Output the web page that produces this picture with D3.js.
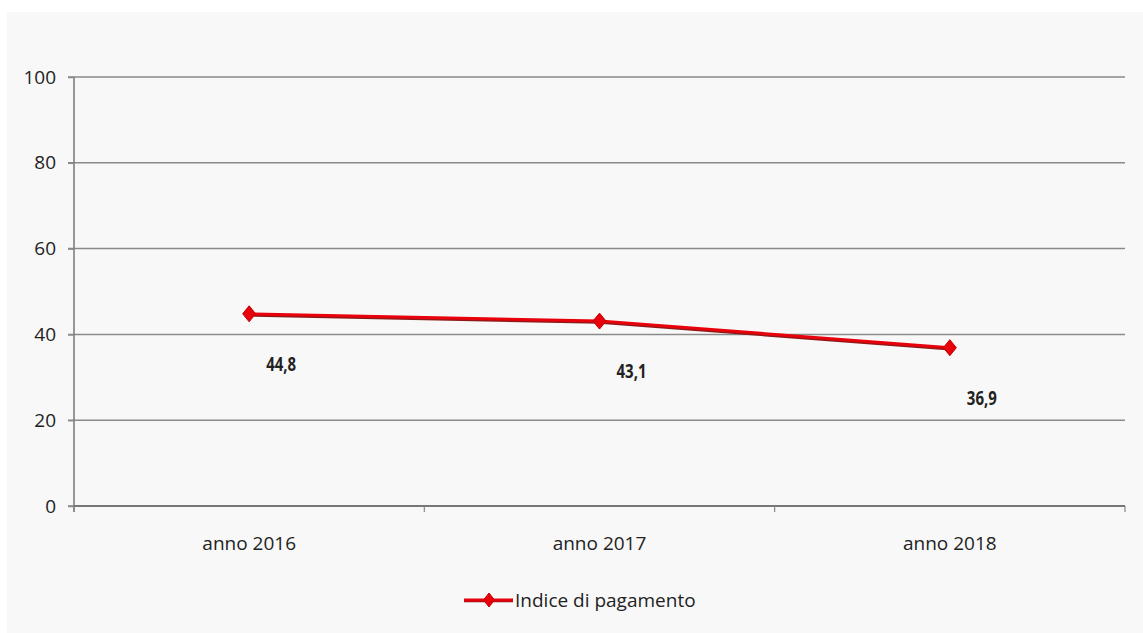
<!DOCTYPE html>
<html><head><meta charset="utf-8">
<script src="https://cdn.jsdelivr.net/npm/d3@7"></script>
<style>html,body{margin:0;padding:0;background:#fff;}svg{display:block;}</style>
</head><body>
<svg id="c" width="1143" height="633"></svg>
<script>
const categories = ["anno 2016", "anno 2017", "anno 2018"];
const values = [44.8, 43.1, 36.9];
const valueLabels = ["44,8", "43,1", "36,9"];
const yTicks = [0, 20, 40, 60, 80, 100];
const seriesName = "Indice di pagamento";

const svg = d3.select("#c");
const font = "'Open Sans', 'DejaVu Sans', sans-serif";
svg.append("rect").attr("x", 7).attr("y", 12).attr("width", 1136).attr("height", 621).attr("fill", "#f8f8f8");

const L = 74, R = 1125, T = 77, B = 506;
const x = d3.scaleBand().domain(categories).range([L, R]);
const y = d3.scaleLinear().domain([0, 100]).range([B, T]);

// gridlines
svg.append("g").selectAll("line").data(yTicks).join("line")
  .attr("x1", L - 6).attr("x2", R).attr("y1", d => y(d)).attr("y2", d => y(d))
  .attr("stroke", "#8a8a8a").attr("stroke-width", 1.5);

// y axis
const ya = svg.append("g").attr("transform", `translate(${L},0)`)
  .call(d3.axisLeft(y).tickValues(yTicks).tickSize(6).tickPadding(12));
ya.select(".domain").attr("stroke", "#777").attr("stroke-width", 1.5).attr("d", `M0,${T}V${B + 6}`);
ya.selectAll(".tick line").attr("stroke", "#8a8a8a").attr("stroke-width", 1.5);
ya.selectAll("text").attr("font-family", font).attr("font-size", 19).attr("fill", "#222");

// x axis
const xa = svg.append("g").attr("transform", `translate(0,${B})`)
  .call(d3.axisBottom(x).tickSize(0).tickPadding(31));
xa.select(".domain").attr("stroke", "#777").attr("stroke-width", 2).attr("d", `M${L},0H${R}`);
xa.selectAll("text").attr("font-family", font).attr("font-size", 19).attr("fill", "#222");
// category boundary ticks
const bounds = categories.map(c => x(c)).concat([R]);
xa.append("g").selectAll("line").data(bounds).join("line")
  .attr("x1", d => d).attr("x2", d => d).attr("y1", 0).attr("y2", 6)
  .attr("stroke", "#888").attr("stroke-width", 1.2);

const cx = (d, i) => x(categories[i]) + x.bandwidth() / 2;
const data = values.map((v, i) => ({ v, i }));

// shadow line
const line = d3.line().x(d => cx(d, d.i)).y(d => y(d.v));
svg.append("path").datum(data).attr("d", line).attr("transform", "translate(0,1.5)")
  .attr("fill", "none").attr("stroke", "#8b1a1a").attr("stroke-width", 2.5);
svg.append("path").datum(data).attr("d", line)
  .attr("fill", "none").attr("stroke", "#e8000b").attr("stroke-width", 3);

const diamond = "M0,-8L6.5,0L0,8L-6.5,0Z";
svg.append("g").selectAll("path").data(data).join("path")
  .attr("d", diamond).attr("transform", d => `translate(${cx(d, d.i)},${y(d.v)})`)
  .attr("fill", "#e8000b").attr("stroke", "#c00000").attr("stroke-width", 1);

svg.append("g").selectAll("text").data(data).join("text")
  .attr("x", d => cx(d, d.i) + 32).attr("y", d => y(d.v) + 57)
  .attr("text-anchor", "middle").attr("font-family", font).attr("font-weight", "bold")
  .attr("font-size", 19).attr("textLength", 30).attr("lengthAdjust", "spacingAndGlyphs")
  .attr("fill", "#222").text(d => valueLabels[d.i]);

// legend
const lg = svg.append("g").attr("transform", "translate(464,600)");
lg.append("line").attr("x1", 0).attr("x2", 49).attr("y1", 1).attr("y2", 1).attr("stroke", "#8b1a1a").attr("stroke-width", 2.5);
lg.append("line").attr("x1", 0).attr("x2", 49).attr("y1", 0).attr("y2", 0).attr("stroke", "#e8000b").attr("stroke-width", 3);
lg.append("path").attr("d", "M0,-7L5.5,0L0,7L-5.5,0Z").attr("transform", "translate(25,0)").attr("fill", "#e8000b").attr("stroke", "#c00000");
lg.append("text").attr("x", 51).attr("y", 7).attr("font-family", font).attr("font-size", 19)
  .attr("fill", "#222").text(seriesName);
</script>
</body></html>
